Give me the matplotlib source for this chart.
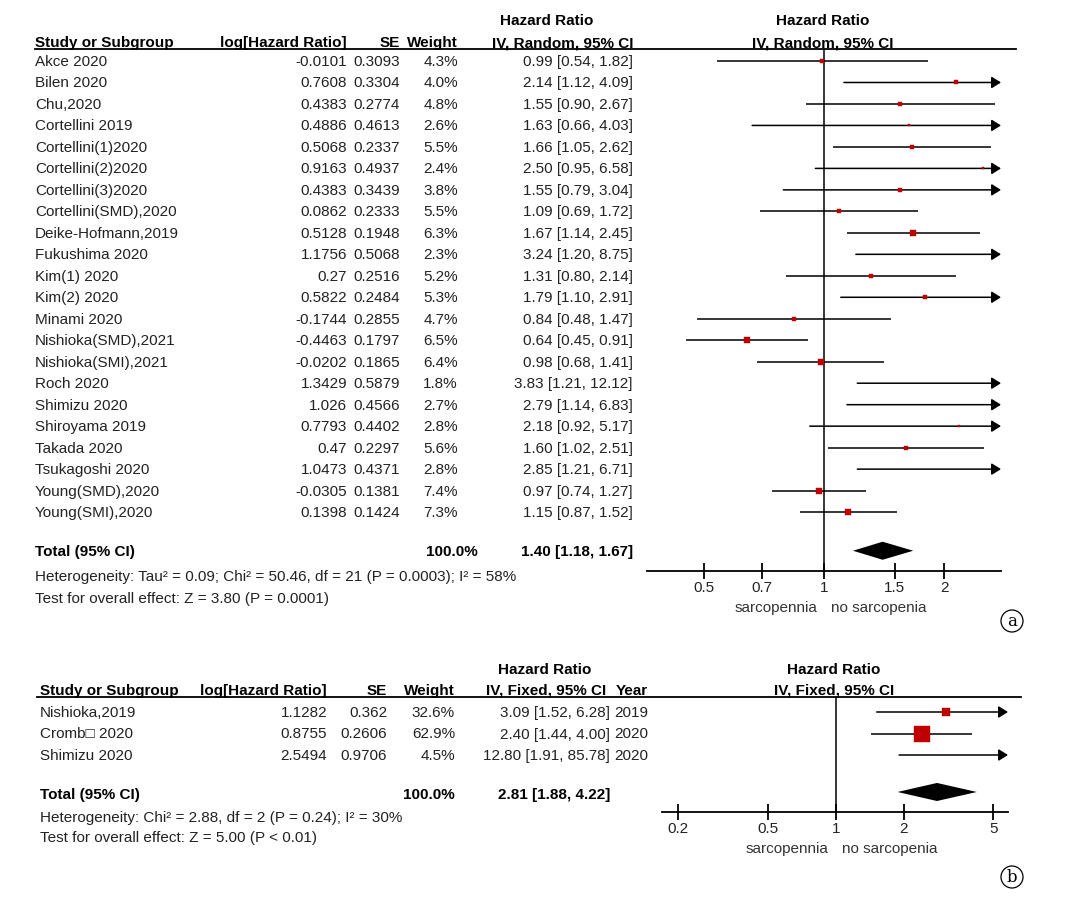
import matplotlib as mpl
mpl.use('Agg')
import matplotlib.pyplot as plt
import matplotlib.transforms as mtransforms
from matplotlib.lines import Line2D
from matplotlib.ticker import NullLocator

plt.rcParams['font.family'] = ['Liberation Sans', 'DejaVu Sans']

# ---------------- panel (a) data ----------------
studies_a = ['Akce 2020', 'Bilen 2020', 'Chu,2020', 'Cortellini 2019', 'Cortellini(1)2020',
             'Cortellini(2)2020', 'Cortellini(3)2020', 'Cortellini(SMD),2020', 'Deike-Hofmann,2019',
             'Fukushima 2020', 'Kim(1) 2020', 'Kim(2) 2020', 'Minami 2020', 'Nishioka(SMD),2021',
             'Nishioka(SMI),2021', 'Roch 2020', 'Shimizu 2020', 'Shiroyama 2019', 'Takada 2020',
             'Tsukagoshi 2020', 'Young(SMD),2020', 'Young(SMI),2020']
loghr_a = [-0.0101, 0.7608, 0.4383, 0.4886, 0.5068, 0.9163, 0.4383, 0.0862, 0.5128, 1.1756, 0.27,
           0.5822, -0.1744, -0.4463, -0.0202, 1.3429, 1.026, 0.7793, 0.47, 1.0473, -0.0305, 0.1398]
se_a = [0.3093, 0.3304, 0.2774, 0.4613, 0.2337, 0.4937, 0.3439, 0.2333, 0.1948, 0.5068, 0.2516,
        0.2484, 0.2855, 0.1797, 0.1865, 0.5879, 0.4566, 0.4402, 0.2297, 0.4371, 0.1381, 0.1424]
weight_a = [4.3, 4.0, 4.8, 2.6, 5.5, 2.4, 3.8, 5.5, 6.3, 2.3, 5.2, 5.3, 4.7, 6.5, 6.4, 1.8, 2.7,
            2.8, 5.6, 2.8, 7.4, 7.3]
hr_a = [0.99, 2.14, 1.55, 1.63, 1.66, 2.50, 1.55, 1.09, 1.67, 3.24, 1.31, 1.79, 0.84, 0.64, 0.98,
        3.83, 2.79, 2.18, 1.60, 2.85, 0.97, 1.15]
lo_a = [0.54, 1.12, 0.90, 0.66, 1.05, 0.95, 0.79, 0.69, 1.14, 1.20, 0.80, 1.10, 0.48, 0.45, 0.68,
        1.21, 1.14, 0.92, 1.02, 1.21, 0.74, 0.87]
hi_a = [1.82, 4.09, 2.67, 4.03, 2.62, 6.58, 3.04, 1.72, 2.45, 8.75, 2.14, 2.91, 1.47, 0.91, 1.41,
        12.12, 6.83, 5.17, 2.51, 6.71, 1.27, 1.52]
total_a = (1.40, 1.18, 1.67)
het_a = 'Heterogeneity: Tau\u00b2 = 0.09; Chi\u00b2 = 50.46, df = 21 (P = 0.0003); I\u00b2 = 58%'
test_a = 'Test for overall effect: Z = 3.80 (P = 0.0001)'
ticks_a = [0.5, 0.7, 1, 1.5, 2]
ticklabels_a = ['0.5', '0.7', '1', '1.5', '2']

# ---------------- panel (b) data ----------------
studies_b = ['Nishioka,2019', 'Cromb\u25a1 2020', 'Shimizu 2020']
loghr_b = [1.1282, 0.8755, 2.5494]
se_b = [0.362, 0.2606, 0.9706]
weight_b = [32.6, 62.9, 4.5]
hr_b = [3.09, 2.40, 12.80]
lo_b = [1.52, 1.44, 1.91]
hi_b = [6.28, 4.00, 85.78]
year_b = ['2019', '2020', '2020']
total_b = (2.81, 1.88, 4.22)
het_b = 'Heterogeneity: Chi\u00b2 = 2.88, df = 2 (P = 0.24); I\u00b2 = 30%'
test_b = 'Test for overall effect: Z = 5.00 (P < 0.01)'
ticks_b = [0.2, 0.5, 1, 2, 5]
ticklabels_b = ['0.2', '0.5', '1', '2', '5']

W, H = 1074, 903
FS = 11
TXT = '#222222'
RED = '#c00000'

fig = plt.figure(figsize=(W / 100, H / 100), dpi=100)


def fx(px):
    return px / W


def fy(py):
    return 1 - py / H


def forest(ax, hr, lo, hi, weight, total, xlim, ticks, ticklabels, sq_scale, total_row):
    ax.set_xscale('log')
    ax.set_xlim(*xlim)
    for i in range(len(hr)):
        left = max(lo[i], xlim[0])
        if hi[i] > xlim[1]:
            ax.annotate('', xy=(xlim[1], i), xytext=(left, i), annotation_clip=False,
                        arrowprops=dict(arrowstyle='-|>,head_length=0.8,head_width=0.5',
                                        color='black', lw=1.1, mutation_scale=7,
                                        shrinkA=0, shrinkB=0))
        else:
            ax.plot([left, hi[i]], [i, i], color='black', lw=1.1, solid_capstyle='butt')
        if xlim[0] < hr[i] < xlim[1]:
            ms = max(weight[i] * sq_scale, 3.0) / 1.389
            ax.plot(hr[i], i, marker='s', ms=ms, color=RED, mec=RED, mew=0.3, zorder=6)
    # summary diamond
    t, tl, th = total
    dh = 0.42
    ax.fill([tl, t, th, t], [total_row, total_row - dh, total_row, total_row + dh],
            color='black', lw=0)
    ax.axvline(1, color='black', lw=1.1)
    for s in ['left', 'right', 'top']:
        ax.spines[s].set_visible(False)
    ax.spines['bottom'].set_linewidth(1.3)
    ax.set_yticks([])
    ax.set_xticks(ticks)
    ax.set_xticklabels(ticklabels)
    ax.xaxis.set_minor_locator(NullLocator())
    ax.tick_params(axis='x', direction='inout', length=11, width=1.3, labelsize=FS,
                   labelcolor=TXT, pad=1)
    ax.patch.set_alpha(0)


# ================= panel (a) =================
ya0, pa = 62, 21.48
ax_a = fig.add_axes([fx(647), fy(572), (1001 - 647) / W, (572 - 50) / H])
ax_a.set_ylim((572 - ya0) / pa, (50 - ya0) / pa)
forest(ax_a, hr_a, lo_a, hi_a, weight_a, total_a, (0.36, 2.77), ticks_a, ticklabels_a,
       0.8, 22.8)

tr_a = mtransforms.blended_transform_factory(fig.transFigure, ax_a.transData)
for i, name in enumerate(studies_a):
    kw = dict(transform=tr_a, va='center', fontsize=FS, color=TXT)
    fig.text(fx(35), i, name, ha='left', **kw)
    fig.text(fx(347), i, str(loghr_a[i]), ha='right', **kw)
    fig.text(fx(400), i, str(se_a[i]), ha='right', **kw)
    fig.text(fx(458), i, '%.1f%%' % weight_a[i], ha='right', **kw)
    fig.text(fx(633), i, '%.2f [%.2f, %.2f]' % (hr_a[i], lo_a[i], hi_a[i]), ha='right', **kw)

kb = dict(transform=tr_a, va='center', fontsize=FS, fontweight='bold', color='black')
fig.text(fx(35), 22.8, 'Total (95% CI)', ha='left', **kb)
fig.text(fx(478), 22.8, '100.0%', ha='right', **kb)
fig.text(fx(633), 22.8, '%.2f [%.2f, %.2f]' % total_a, ha='right', **kb)
fig.text(fx(35), fy(577), het_a, ha='left', va='center', fontsize=FS, color=TXT)
fig.text(fx(35), fy(599), test_a, ha='left', va='center', fontsize=FS, color=TXT)

hk = dict(va='center', fontsize=FS, fontweight='bold', color='black')
fig.text(fx(35), fy(43), 'Study or Subgroup', ha='left', **hk)
fig.text(fx(347), fy(43), 'log[Hazard Ratio]', ha='right', **hk)
fig.text(fx(400), fy(43), 'SE', ha='right', **hk)
fig.text(fx(458), fy(43), 'Weight', ha='right', **hk)
fig.text(fx(633), fy(43), 'IV, Random, 95% CI', ha='right', **hk)
fig.text(fx(547), fy(21), 'Hazard Ratio', ha='center', **hk)
fig.text(fx(823), fy(21), 'Hazard Ratio', ha='center', **hk)
fig.text(fx(823), fy(43), 'IV, Random, 95% CI', ha='center', **hk)
fig.add_artist(Line2D([fx(35), fx(1016)], [fy(50), fy(50)], color='black', lw=1.3))

fig.text(fx(817), fy(608), 'sarcopennia', ha='right', va='center', fontsize=FS, color='#333333')
fig.text(fx(831), fy(608), 'no sarcopenia', ha='left', va='center', fontsize=FS, color='#333333')
fig.text(fx(1012), fy(622), 'a', ha='center', va='center', fontsize=12, family='DejaVu Serif',
         bbox=dict(boxstyle='circle,pad=0.15', fc='none', ec='black', lw=0.9))

# ================= panel (b) =================
yb0, pb = 713, 21.5
ax_b = fig.add_axes([fx(662), fy(813), (1008 - 662) / W, (813 - 698) / H])
ax_b.set_ylim((813 - yb0) / pb, (698 - yb0) / pb)
forest(ax_b, hr_b, lo_b, hi_b, weight_b, total_b, (0.17, 5.8), ticks_b, ticklabels_b,
       0.24, 3.72)

tr_b = mtransforms.blended_transform_factory(fig.transFigure, ax_b.transData)
for i, name in enumerate(studies_b):
    kw = dict(transform=tr_b, va='center', fontsize=FS, color=TXT)
    fig.text(fx(40), i, name, ha='left', **kw)
    fig.text(fx(327), i, str(loghr_b[i]), ha='right', **kw)
    fig.text(fx(387), i, str(se_b[i]), ha='right', **kw)
    fig.text(fx(455), i, '%.1f%%' % weight_b[i], ha='right', **kw)
    fig.text(fx(610), i, '%.2f [%.2f, %.2f]' % (hr_b[i], lo_b[i], hi_b[i]), ha='right', **kw)
    fig.text(fx(648), i, year_b[i], ha='right', **kw)

kb = dict(transform=tr_b, va='center', fontsize=FS, fontweight='bold', color='black')
fig.text(fx(40), 3.8, 'Total (95% CI)', ha='left', **kb)
fig.text(fx(455), 3.8, '100.0%', ha='right', **kb)
fig.text(fx(610), 3.8, '%.2f [%.2f, %.2f]' % total_b, ha='right', **kb)
fig.text(fx(40), fy(818), het_b, ha='left', va='center', fontsize=FS, color=TXT)
fig.text(fx(40), fy(838), test_b, ha='left', va='center', fontsize=FS, color=TXT)

fig.text(fx(40), fy(691), 'Study or Subgroup', ha='left', **hk)
fig.text(fx(327), fy(691), 'log[Hazard Ratio]', ha='right', **hk)
fig.text(fx(387), fy(691), 'SE', ha='right', **hk)
fig.text(fx(455), fy(691), 'Weight', ha='right', **hk)
fig.text(fx(606), fy(691), 'IV, Fixed, 95% CI', ha='right', **hk)
fig.text(fx(648), fy(691), 'Year', ha='right', **hk)
fig.text(fx(545), fy(670), 'Hazard Ratio', ha='center', **hk)
fig.text(fx(834), fy(670), 'Hazard Ratio', ha='center', **hk)
fig.text(fx(834), fy(691), 'IV, Fixed, 95% CI', ha='center', **hk)
fig.add_artist(Line2D([fx(37), fx(1021)], [fy(698), fy(698)], color='black', lw=1.3))

fig.text(fx(828), fy(849), 'sarcopennia', ha='right', va='center', fontsize=FS, color='#333333')
fig.text(fx(842), fy(849), 'no sarcopenia', ha='left', va='center', fontsize=FS, color='#333333')
fig.text(fx(1012), fy(878), 'b', ha='center', va='center', fontsize=12, family='DejaVu Serif',
         bbox=dict(boxstyle='circle,pad=0.15', fc='none', ec='black', lw=0.9))

fig.savefig('out.png', dpi=100, facecolor='white')
